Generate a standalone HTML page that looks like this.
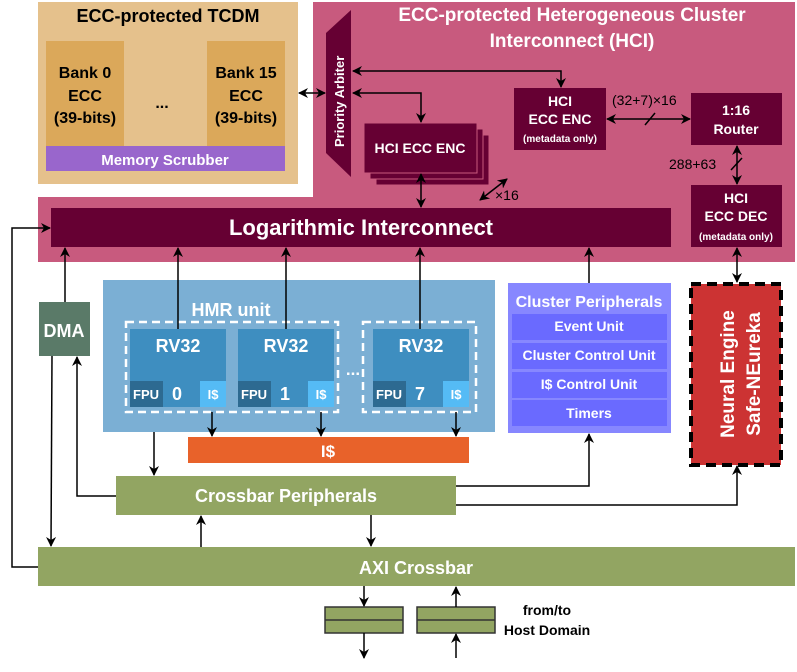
<!DOCTYPE html>
<html><head><meta charset="utf-8"><style>body{margin:0;background:#fff}svg{display:block;font-family:"Liberation Sans",sans-serif;font-weight:bold}</style></head><body>
<svg width="797" height="672" viewBox="0 0 797 672" xmlns="http://www.w3.org/2000/svg">
<defs><marker id="a" markerWidth="10" markerHeight="10" refX="9" refY="5" orient="auto-start-reverse" markerUnits="userSpaceOnUse"><path d="M0,0 L10,5 L0,10 L3,5 Z" fill="#000"/></marker></defs>
<!-- TCDM -->
<rect x="38" y="2" width="260" height="182" fill="#e5c18c"/>
<text x="168" y="22" text-anchor="middle" font-size="18">ECC-protected TCDM</text>
<rect x="46" y="41" width="78" height="105" fill="#dba85a"/>
<rect x="207" y="41" width="78" height="105" fill="#dba85a"/>
<g font-size="16" text-anchor="middle"><text x="85" y="78">Bank 0</text><text x="85" y="101">ECC</text><text x="85" y="123">(39-bits)</text>
<text x="246" y="78">Bank 15</text><text x="246" y="101">ECC</text><text x="246" y="123">(39-bits)</text><text x="162" y="108">...</text></g>
<rect x="46" y="146" width="239" height="25" fill="#9966cc"/>
<text x="165" y="165" text-anchor="middle" font-size="15" fill="#fff">Memory Scrubber</text>
<!-- HCI -->
<path d="M313,2 H795 V262 H38 V197 H313 Z" fill="#c85a7e"/>
<g fill="#fff" font-size="19" text-anchor="middle"><text x="572" y="21">ECC-protected Heterogeneous Cluster</text><text x="572" y="47">Interconnect (HCI)</text></g>
<path d="M351,10 L351,177 L326,153 L326,33 Z" fill="#660033"/>
<text transform="translate(344,147) rotate(-90)" font-size="13" fill="#fff">Priority Arbiter</text>
<rect x="376" y="135" width="113" height="50" fill="#660033" stroke="#c85a7e"/>
<rect x="370" y="129" width="113" height="50" fill="#660033" stroke="#c85a7e"/>
<rect x="364" y="123" width="113" height="50" fill="#660033" stroke="#c85a7e"/>
<text x="420" y="153" text-anchor="middle" font-size="14" fill="#fff">HCI ECC ENC</text>
<rect x="514" y="88" width="92" height="62" fill="#660033"/>
<g fill="#fff" text-anchor="middle"><text x="560" y="106" font-size="14">HCI</text><text x="560" y="124" font-size="14">ECC ENC</text><text x="560" y="142" font-size="10">(metadata only)</text></g>
<rect x="691" y="93" width="91" height="52" fill="#660033"/>
<g fill="#fff" text-anchor="middle" font-size="14"><text x="736" y="115">1:16</text><text x="736" y="134">Router</text></g>
<rect x="691" y="185" width="91" height="62" fill="#660033"/>
<g fill="#fff" text-anchor="middle"><text x="736" y="203" font-size="14">HCI</text><text x="736" y="221" font-size="14">ECC DEC</text><text x="736" y="240" font-size="10">(metadata only)</text></g>
<rect x="51" y="208" width="620" height="39" fill="#660033"/>
<text x="361" y="235" text-anchor="middle" font-size="22" fill="#fff">Logarithmic Interconnect</text>
<g stroke="#000" stroke-width="1.5" fill="none">
<line x1="299" y1="93" x2="325" y2="93" marker-start="url(#a)" marker-end="url(#a)"/>
<path d="M353,71 H561 V87" marker-start="url(#a)" marker-end="url(#a)"/>
<path d="M353,93 H421 V122" marker-start="url(#a)" marker-end="url(#a)"/>
<line x1="421" y1="174" x2="421" y2="207" marker-start="url(#a)" marker-end="url(#a)"/>
<line x1="480" y1="200" x2="507" y2="179" marker-start="url(#a)" marker-end="url(#a)"/>
<line x1="607" y1="119" x2="690" y2="119" marker-start="url(#a)" marker-end="url(#a)"/>
<line x1="645" y1="125" x2="655" y2="113"/>
<line x1="737" y1="146" x2="737" y2="184" marker-start="url(#a)" marker-end="url(#a)"/>
<line x1="731" y1="170" x2="742" y2="158"/>
</g>
<g font-size="14" font-weight="normal"><text x="495" y="200">×16</text><text x="612" y="105">(32+7)×16</text><text x="669" y="169">288+63</text></g>
<!-- HMR -->
<rect x="103" y="280" width="392" height="152" fill="#7bafd4"/>
<text x="231" y="316" text-anchor="middle" font-size="18" fill="#fff">HMR unit</text>
<g>
<rect x="130" y="329" width="96" height="78" fill="#3e8ec0"/><rect x="130" y="381" width="33" height="26" fill="#2d6a91"/><rect x="200" y="381" width="26" height="26" fill="#55bbf5"/>
<rect x="238" y="329" width="96" height="78" fill="#3e8ec0"/><rect x="238" y="381" width="33" height="26" fill="#2d6a91"/><rect x="308" y="381" width="26" height="26" fill="#55bbf5"/>
<rect x="373" y="329" width="96" height="78" fill="#3e8ec0"/><rect x="373" y="381" width="33" height="26" fill="#2d6a91"/><rect x="443" y="381" width="26" height="26" fill="#55bbf5"/>
</g>
<g fill="#fff" text-anchor="middle"><g font-size="18"><text x="178" y="352">RV32</text><text x="286" y="352">RV32</text><text x="421" y="352">RV32</text>
<text x="177" y="400">0</text><text x="285" y="400">1</text><text x="420" y="400">7</text></g>
<g font-size="13"><text x="146" y="399">FPU</text><text x="254" y="399">FPU</text><text x="389" y="399">FPU</text><text x="213" y="399">I$</text><text x="321" y="399">I$</text><text x="456" y="399">I$</text></g>
<text x="353" y="375" font-size="17">...</text></g>
<g fill="none" stroke="#fff" stroke-width="2.5" stroke-dasharray="8,5"><rect x="126" y="322" width="212" height="90"/><rect x="363" y="322" width="113" height="90"/></g>
<rect x="188" y="437" width="281" height="26" fill="#e8622a"/>
<text x="328" y="457" text-anchor="middle" font-size="17" fill="#fff">I$</text>
<rect x="116" y="476" width="340" height="39" fill="#92a562"/>
<text x="286" y="502" text-anchor="middle" font-size="18" fill="#fff">Crossbar Peripherals</text>
<rect x="38" y="547" width="757" height="39" fill="#92a562"/>
<text x="416" y="574" text-anchor="middle" font-size="18" fill="#fff">AXI Crossbar</text>
<rect x="39" y="302" width="51" height="54" fill="#5a7a68"/>
<text x="64" y="337" text-anchor="middle" font-size="18" fill="#fff">DMA</text>
<!-- Cluster periph -->
<rect x="508" y="283" width="163" height="150" fill="#8787ff"/>
<text x="589" y="307" text-anchor="middle" font-size="16" fill="#fff">Cluster Peripherals</text>
<g fill="#6a6aff"><rect x="512" y="314" width="155" height="26"/><rect x="512" y="343" width="155" height="26"/><rect x="512" y="372" width="155" height="26"/><rect x="512" y="400" width="155" height="26"/></g>
<g fill="#fff" text-anchor="middle" font-size="14"><text x="589" y="331">Event Unit</text><text x="589" y="360">Cluster Control Unit</text><text x="589" y="389">I$ Control Unit</text><text x="589" y="418">Timers</text></g>
<rect x="691" y="284" width="90" height="181" fill="#cc3333" stroke="#000" stroke-width="4" stroke-dasharray="10,6"/>
<g fill="#fff" font-size="19" text-anchor="middle"><text transform="translate(734,374) rotate(-90)">Neural Engine</text><text transform="translate(760,374) rotate(-90)">Safe-NEureka</text></g>
<!-- bottom boxes -->
<g fill="#92a562" stroke="#333" stroke-width="1.5"><rect x="325" y="607" width="78" height="26"/><rect x="417" y="607" width="78" height="26"/></g>
<g stroke="#333" stroke-width="1.5"><line x1="325" y1="620" x2="403" y2="620"/><line x1="417" y1="620" x2="495" y2="620"/></g>
<g font-size="14" text-anchor="middle"><text x="547" y="615">from/to</text><text x="547" y="635">Host Domain</text></g>
<g stroke="#000" stroke-width="1.5" fill="none">
<line x1="65" y1="302" x2="65" y2="248" marker-end="url(#a)"/>
<line x1="178" y1="329" x2="178" y2="248" marker-end="url(#a)"/>
<line x1="286" y1="329" x2="286" y2="248" marker-end="url(#a)"/>
<line x1="420" y1="329" x2="420" y2="248" marker-end="url(#a)"/>
<line x1="589" y1="283" x2="589" y2="248" marker-end="url(#a)"/>
<line x1="737" y1="248" x2="737" y2="282" marker-start="url(#a)" marker-end="url(#a)"/>
<path d="M38,567 H12 V228 H50" marker-end="url(#a)"/>
<line x1="52" y1="356" x2="51" y2="546" marker-end="url(#a)"/>
<path d="M116,496 H77 V357" marker-end="url(#a)"/>
<line x1="154" y1="432" x2="154" y2="475" marker-end="url(#a)"/>
<line x1="212" y1="412" x2="212" y2="436" marker-end="url(#a)"/>
<line x1="321" y1="412" x2="321" y2="436" marker-end="url(#a)"/>
<line x1="456" y1="412" x2="456" y2="436" marker-end="url(#a)"/>
<line x1="201" y1="547" x2="201" y2="516" marker-end="url(#a)"/>
<line x1="371" y1="515" x2="371" y2="546" marker-end="url(#a)"/>
<path d="M456,486 H589 V434" marker-end="url(#a)"/>
<path d="M456,505 H737 V466" marker-end="url(#a)"/>
<line x1="364" y1="586" x2="364" y2="606" marker-end="url(#a)"/>
<line x1="364" y1="633" x2="364" y2="658" marker-end="url(#a)"/>
<line x1="456" y1="658" x2="456" y2="634" marker-end="url(#a)"/>
<line x1="456" y1="607" x2="456" y2="587" marker-end="url(#a)"/>
</g>
</svg>
</body></html>
